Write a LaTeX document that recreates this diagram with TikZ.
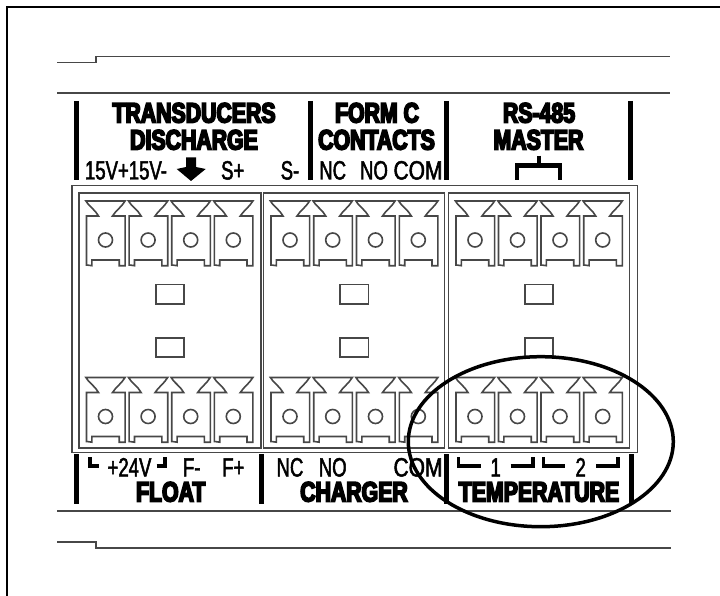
\documentclass[tikz,border=0pt]{standalone}
\usepackage{fontspec}
\setmainfont{Liberation Sans}
\newfontfamily\hdfont[FakeStretch=.76,FakeBold=6,UprightFont=* Bold]{Liberation Sans}
\newfontfamily\lbfont[FakeStretch=.70,FakeBold=1.8]{Liberation Sans}
\tikzset{
  heading/.style={font=\hdfont\fontsize{28}{28}\selectfont,anchor=base,inner sep=0pt,text=black},
  lbl/.style={font=\lbfont\fontsize{26.5}{27}\selectfont,anchor=base,inner sep=0pt,text=black},
  widelbl/.style={lbl,transform shape,xscale=1.13},
  wire/.style={draw=black!72,line width=1.6pt,line join=miter},
  bar/.style={draw=black,line width=5pt},
  brk/.style={draw=black,line width=3.8pt},
  ring/.style={draw=black,line width=3.5pt}
}
\newcommand{\term}[2]{%
  \begin{scope}[shift={(#1,#2)}]
    \draw[wire] (-18.5,25) -- (-19,25) -- (-19,-24) -- (-7,-24)
      .. controls (-10,-30) and (-17,-34) .. (-19.6,-39) -- (19.6,-39)
      .. controls (16,-33) and (10,-29) .. (7,-24) -- (19.6,-24) -- (19.6,25.7)
      -- (13.7,25.7) -- (13.7,20) -- (-13.6,20) -- (-13.6,25.7) -- cycle;
    \draw[wire] (0,0) circle (7);
  \end{scope}}
\begin{document}
\begin{tikzpicture}[x=1pt,y=-1pt]
\useasboundingbox (0,0) rectangle (720,596);
% frame
\draw[draw=black,line width=2pt] (7,596) -- (7,7) -- (720,7);
% housing lines
\draw[wire] (57,62.7) -- (95.7,62.7) -- (95.7,56.7) -- (670,56.7);
\draw[wire] (57,93.3) -- (670,93.3);
\draw[wire] (57,510.7) -- (671,510.7);
\draw[wire] (57,541.7) -- (95.7,541.7) -- (95.7,547.7) -- (671,547.7);
% separators
\foreach \x in {76.7,310.7,446,630.7} \draw[bar] (\x,101) -- (\x,180);
\foreach \x in {76.7,261,446,631} \draw[bar] (\x,454) -- (\x,503.5);
% blocks
\draw[wire] (71.7,185.7) rectangle (637.3,452.3);
\draw[wire] (79,193.3) rectangle (261,447.7);
\draw[wire] (263.3,193.3) rectangle (444.3,447.7);
\draw[wire] (448.3,193.3) rectangle (629.3,447.7);
\foreach \x in {105.5,148.1,190.7,233.3,290,332.7,375.5,418.3,475,517.5,560,602.7}{
  \term{\x}{240}
  \term{\x}{416.5}
}
\foreach \x in {155.7,340,524.7}{
  \draw[wire] (\x,284.5) rectangle ++(28.5,19.5);
  \draw[wire] (\x,337.7) rectangle ++(28.5,19.5);
}
% headings
\node[heading] (t1) at (194,122.5) {TRANSDUCERS};
\node[heading] (t2) at (194,149.5) {DISCHARGE};
\node[heading] (t3) at (377,122.5) {FORM C};
\node[heading] (t4) at (376.5,149.5) {CONTACTS};
\node[heading] (t5) at (539,122.5) {RS-485};
\node[heading] (t6) at (538.5,149.5) {MASTER};
\node[heading] (b1) at (170.7,501.5) {FLOAT};
\node[heading] (b2) at (354,501.5) {CHARGER};
\node[heading] (b3) at (539,501.5) {TEMPERATURE};
% top terminal labels
\node[lbl] (l1) at (126,179.5) {15V+15V-};
\node[lbl] (l2) at (232.7,179.5) {S+};
\node[lbl] (l3) at (290,179.5) {S-};
\node[lbl] (l4) at (332.7,179.5) {NC};
\node[lbl] (l5) at (374,179.5) {NO};
\node[widelbl] (l6) at (418,179.5) {COM};
% ground arrow
\fill[black] (186,157.5) -- (196,157.5) -- (196,167) -- (205.7,169) -- (191,181) -- (176.7,169) -- (186,167) -- cycle;
% master symbol
\draw[brk,line width=4.5pt] (517,180) -- (517,165.5) -- (560,165.5) -- (560,180);
\draw[brk,line width=4.5pt] (539,155.7) -- (539,165);
% bottom labels
\node[lbl] (m1) at (129.5,476.5) {+24V};
\node[lbl] (m2) at (191.7,476.5) {F-};
\node[lbl] (m3) at (233.3,476.5) {F+};
\node[lbl] (m4) at (290,476.5) {NC};
\node[lbl] (m5) at (332.7,476.5) {NO};
\node[widelbl] (m6) at (418,476.5) {COM};
\node[lbl] (m7) at (495.7,476.5) {1};
\node[lbl] (m8) at (580.7,476.5) {2};
% bracket marks
\draw[brk] (90,457) -- (90,465.7) -- (99,465.7);
\draw[brk] (156.7,465.7) -- (165,465.7) -- (165,457);
\draw[brk] (458.5,457) -- (458.5,465.7) -- (480.7,465.7);
\draw[brk] (510.7,465.7) -- (533,465.7) -- (533,457);
\draw[brk] (543.5,457) -- (543.5,465.7) -- (565.3,465.7);
\draw[brk] (596,465.7) -- (618,465.7) -- (618,457);
% highlight
\draw[ring] (540.8,441.7) ellipse [x radius=132.5,y radius=85];
\end{tikzpicture}
\end{document}
